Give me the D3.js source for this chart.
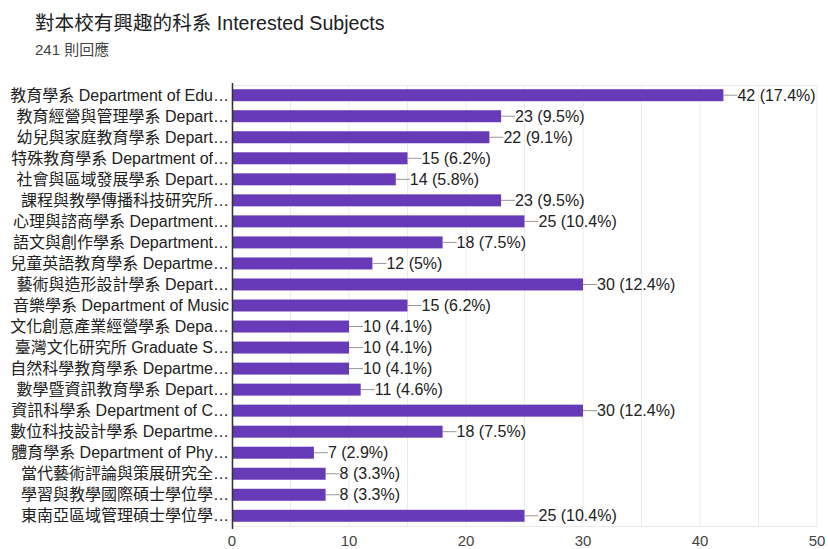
<!DOCTYPE html>
<html>
<head>
<meta charset="utf-8">
<script src="https://cdn.jsdelivr.net/npm/d3@7"></script>
<style>
  body { margin: 0; background: #fff; }
  text { font-family: "Liberation Sans", Arial, "Noto Sans CJK TC", sans-serif; }
</style>
</head>
<body>
<svg id="chart"></svg>
<script>
// categories (already truncated the way the form shows them)
var subjects = [
    "教育學系 Department of Edu…",
    "教育經營與管理學系 Depart…",
    "幼兒與家庭教育學系 Depart…",
    "特殊教育學系 Department of…",
    "社會與區域發展學系 Depart…",
    "課程與教學傳播科技研究所…",
    "心理與諮商學系 Department…",
    "語文與創作學系 Department…",
    "兒童英語教育學系 Departme…",
    "藝術與造形設計學系 Depart…",
    "音樂學系 Department of Music",
    "文化創意產業經營學系 Depa…",
    "臺灣文化研究所 Graduate S…",
    "自然科學教育學系 Departme…",
    "數學暨資訊教育學系 Depart…",
    "資訊科學系 Department of C…",
    "數位科技設計學系 Departme…",
    "體育學系 Department of Phy…",
    "當代藝術評論與策展研究全…",
    "學習與教學國際碩士學位學…",
    "東南亞區域管理碩士學位學…"
]
var counts = [42, 23, 22, 15, 14, 23, 25, 18, 12, 30, 15, 10, 10, 10, 11, 30, 18, 7, 8, 8, 25]
var percents = ["17.4%", "9.5%", "9.1%", "6.2%", "5.8%", "9.5%", "10.4%", "7.5%", "5%", "12.4%", "6.2%",
                "4.1%", "4.1%", "4.1%", "4.6%", "12.4%", "7.5%", "2.9%", "3.3%", "3.3%", "10.4%"]
var xTicks = [0, 10, 20, 30, 40, 50]
var gridTicks = d3.range(0, 55, 5)

var width = 828, height = 549
var margin = {top: 85, right: 10, bottom: 23, left: 232}

var svg = d3.select("#chart")
    .attr("width", width)
    .attr("height", height)

// title
svg.append("text")
    .attr("x", 35).attr("y", 30)
    .attr("font-size", 19.6)
    .attr("fill", "#202124")
    .text("對本校有興趣的科系 Interested Subjects")

svg.append("text")
    .attr("x", 35).attr("y", 55)
    .attr("font-size", 15)
    .attr("fill", "#444")
    .text("241 則回應")

var xScale = d3.scaleLinear()
    .domain([0, 50])
    .range([margin.left, 817])

var yScale = d3.scaleBand()
    .domain(subjects)
    .range([margin.top, height - margin.bottom])
    .paddingInner(0.43)
    .paddingOuter(0.2)

var plotBottom = height - margin.bottom

// grid
svg.append("g")
    .selectAll("line")
    .data(gridTicks)
    .enter().append("line")
    .attr("x1", d => xScale(d)).attr("x2", d => xScale(d))
    .attr("y1", margin.top).attr("y2", plotBottom)
    .attr("stroke", "#ebebeb")

svg.append("line")
    .attr("x1", margin.left).attr("x2", xScale(50))
    .attr("y1", margin.top + 0.5).attr("y2", margin.top + 0.5)
    .attr("stroke", "#ebebeb")
svg.append("line")
    .attr("x1", margin.left).attr("x2", xScale(50))
    .attr("y1", plotBottom + 0.5).attr("y2", plotBottom + 0.5)
    .attr("stroke", "#ebebeb")

// bars
svg.append("g")
    .selectAll("rect")
    .data(counts)
    .enter().append("rect")
    .attr("x", xScale(0))
    .attr("y", (d, i) => yScale(subjects[i]))
    .attr("width", d => xScale(d) - xScale(0))
    .attr("height", yScale.bandwidth())
    .attr("fill", "#673ab7")

// value labels with leader line
var labels = svg.append("g")
counts.forEach(function(d, i) {
    var cy = yScale(subjects[i]) + yScale.bandwidth() / 2
    labels.append("line")
        .attr("x1", xScale(d)).attr("x2", xScale(d) + 14)
        .attr("y1", cy).attr("y2", cy)
        .attr("stroke", "#999")
    labels.append("text")
        .attr("x", xScale(d) + 14)
        .attr("y", cy)
        .attr("dy", "0.35em")
        .attr("font-size", 16)
        .attr("fill", "#222")
        .text(d + " (" + percents[i] + ")")
})

// y labels
svg.append("g")
    .selectAll("text")
    .data(subjects)
    .enter().append("text")
    .attr("x", margin.left - 3)
    .attr("y", d => yScale(d) + yScale.bandwidth() / 2)
    .attr("dy", "0.35em")
    .attr("text-anchor", "end")
    .attr("font-size", 16)
    .attr("fill", "#222")
    .text(d => d)

// left axis line
svg.append("line")
    .attr("x1", margin.left + 0.5).attr("x2", margin.left + 0.5)
    .attr("y1", margin.top - 2).attr("y2", plotBottom + 3)
    .attr("stroke", "#333")
    .attr("stroke-width", 1.5)

// x tick labels
svg.append("g")
    .selectAll("text")
    .data(xTicks)
    .enter().append("text")
    .attr("x", d => xScale(d))
    .attr("y", 546)
    .attr("text-anchor", "middle")
    .attr("font-size", 15)
    .attr("fill", "#444")
    .text(d => d)
</script>
</body>
</html>
